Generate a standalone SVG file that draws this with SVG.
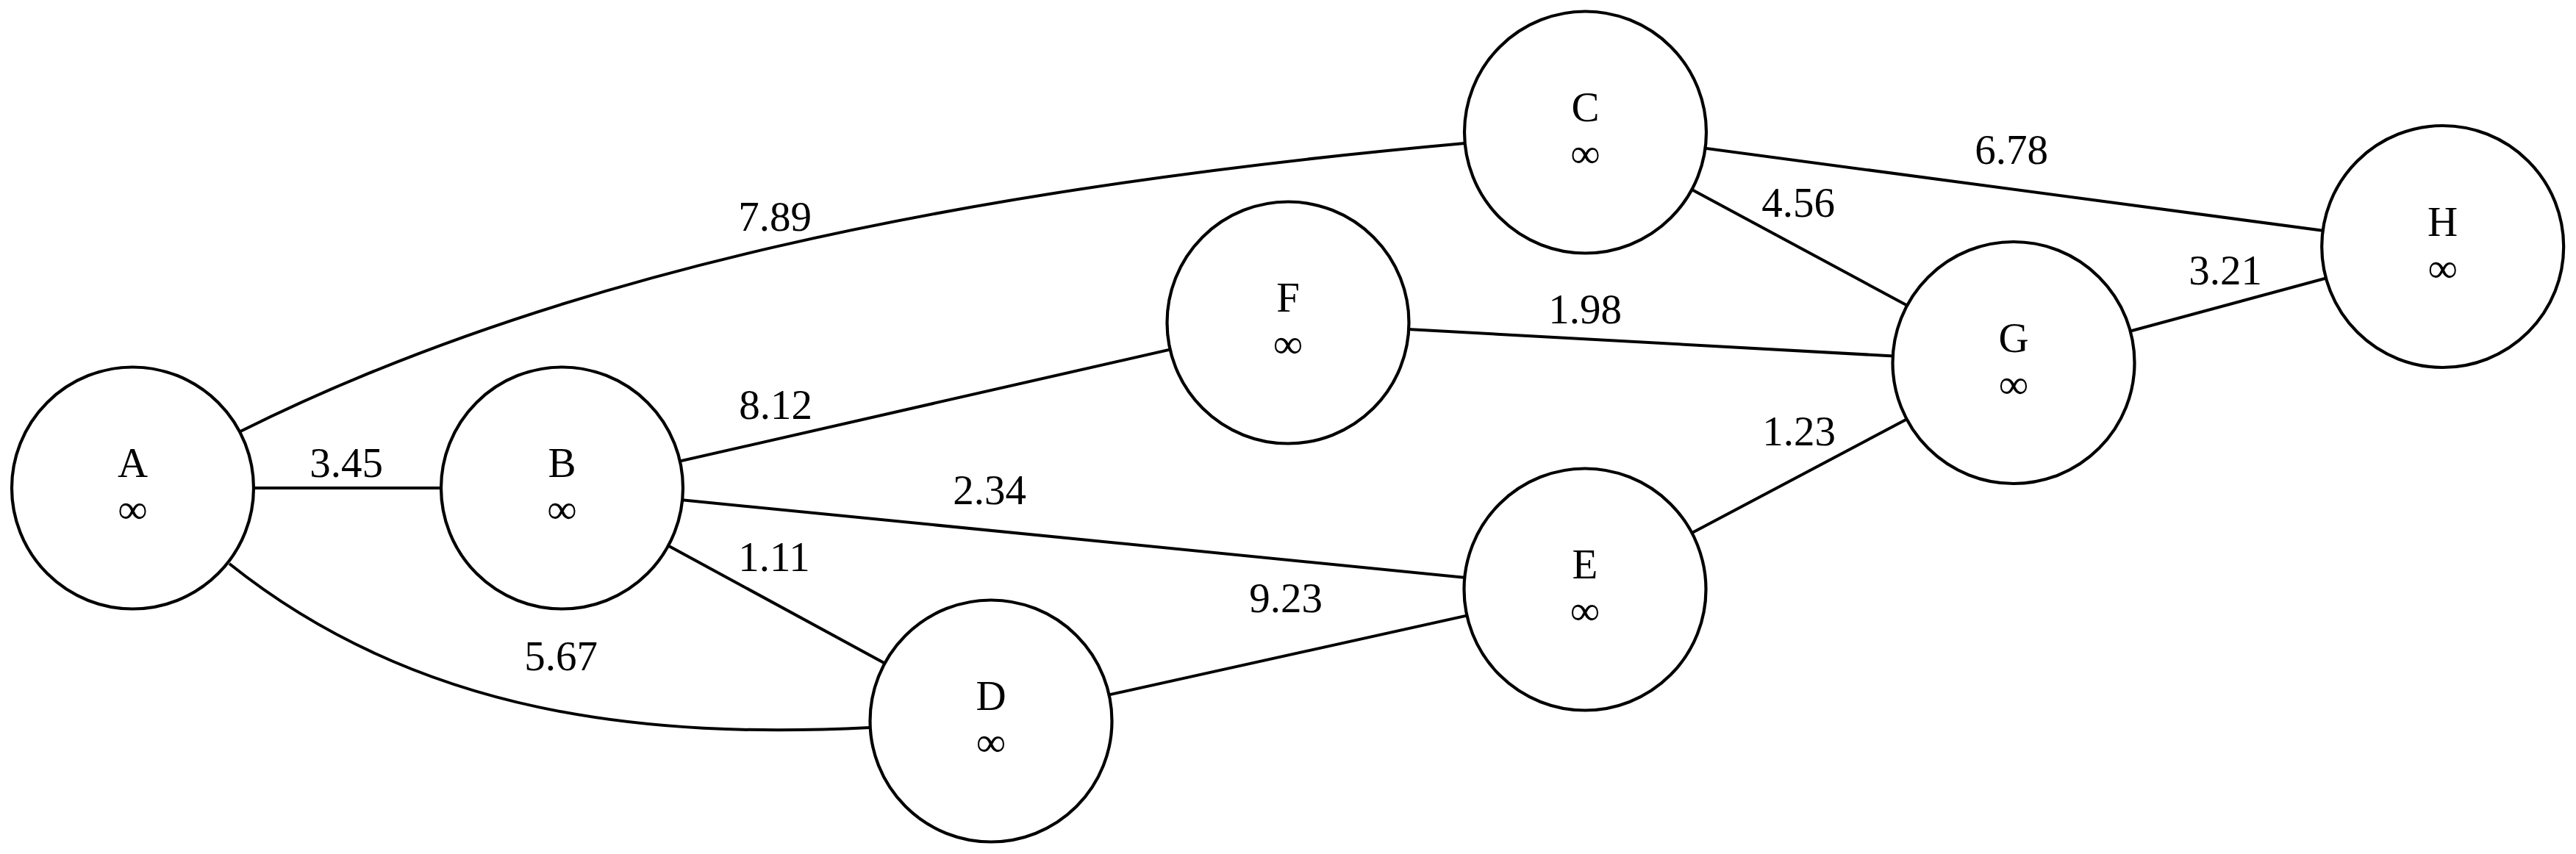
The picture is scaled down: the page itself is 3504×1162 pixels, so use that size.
<svg xmlns="http://www.w3.org/2000/svg" width="3504" height="1162" viewBox="0 0 3504 1162">
<style>
.edge{fill:none;stroke:#000;stroke-width:4}
.node circle{fill:#fff;stroke:#000;stroke-width:4.2}
text{font-family:"Liberation Serif","Times New Roman",serif;font-size:57px;fill:#000;text-anchor:middle}
</style>
<rect width="3504" height="1162" fill="#fff"/>
<g id="edges">
<path class="edge" d="M327,587 C747,377 1292,258 1992,195"/>
<path class="edge" d="M312,767 C572,975 883,1005 1183,990"/>
<line class="edge" x1="180.5" y1="664" x2="764.5" y2="664"/>
<line class="edge" x1="764.5" y1="664" x2="1752" y2="439"/>
<line class="edge" x1="764.5" y1="664" x2="2156" y2="802"/>
<line class="edge" x1="764.5" y1="664" x2="1348" y2="981"/>
<line class="edge" x1="1348" y1="981" x2="2156" y2="802"/>
<line class="edge" x1="1752" y1="439" x2="2739" y2="493.5"/>
<line class="edge" x1="2156" y1="802" x2="2739" y2="493.5"/>
<line class="edge" x1="2156.5" y1="180" x2="2739" y2="493.5"/>
<line class="edge" x1="2156.5" y1="180" x2="3322.7" y2="335.5"/>
<line class="edge" x1="2739" y1="493.5" x2="3322.7" y2="335.5"/>
<text x="1054" y="314">7.89</text>
<text x="763" y="912">5.67</text>
<text x="471" y="649">3.45</text>
<text x="1055" y="570">8.12</text>
<text x="1346" y="686">2.34</text>
<text x="1053" y="777">1.11</text>
<text x="1749" y="833">9.23</text>
<text x="2156" y="440">1.98</text>
<text x="2447" y="606">1.23</text>
<text x="2446" y="295">4.56</text>
<text x="2736" y="223">6.78</text>
<text x="3027" y="387">3.21</text>
</g>
<g id="node-A" class="node"><circle cx="180.5" cy="664" r="164.5"/><text x="180.5" y="649">A</text><text x="180.5" y="712">∞</text></g>
<g id="node-B" class="node"><circle cx="764.5" cy="664" r="164.5"/><text x="764.5" y="649">B</text><text x="764.5" y="712">∞</text></g>
<g id="node-C" class="node"><circle cx="2156.5" cy="180" r="164.5"/><text x="2156.5" y="165">C</text><text x="2156.5" y="228">∞</text></g>
<g id="node-F" class="node"><circle cx="1752" cy="439" r="164.5"/><text x="1752" y="424">F</text><text x="1752" y="487">∞</text></g>
<g id="node-G" class="node"><circle cx="2739" cy="493.5" r="164.5"/><text x="2739" y="478.5">G</text><text x="2739" y="541.5">∞</text></g>
<g id="node-H" class="node"><circle cx="3322.7" cy="335.5" r="164.5"/><text x="3322.7" y="320.5">H</text><text x="3322.7" y="383.5">∞</text></g>
<g id="node-E" class="node"><circle cx="2156" cy="802" r="164.5"/><text x="2156" y="787">E</text><text x="2156" y="850">∞</text></g>
<g id="node-D" class="node"><circle cx="1348" cy="981" r="164.5"/><text x="1348" y="966">D</text><text x="1348" y="1029">∞</text></g>
</svg>
